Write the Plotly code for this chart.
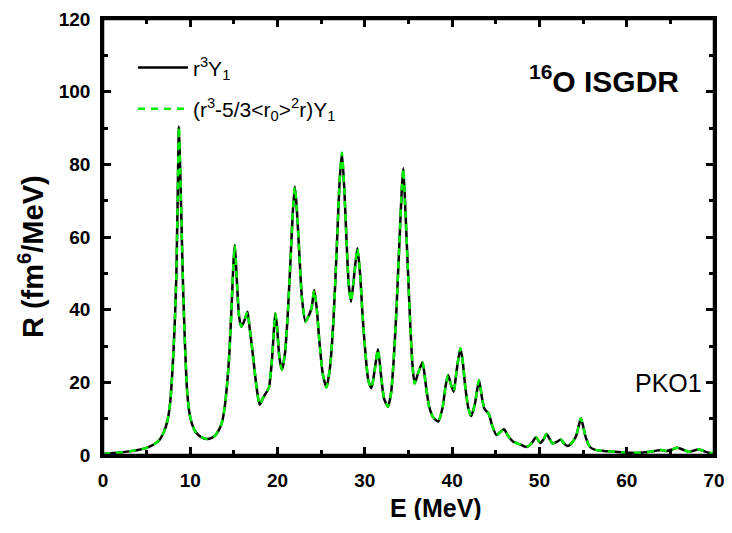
import plotly.graph_objects as go

energy = [0.0, 1.0, 2.0, 3.0, 4.0, 4.9, 5.8, 6.45, 7.0, 7.4, 7.7, 7.95, 8.2, 8.4, 8.55, 8.7, 8.85, 9.05, 9.2, 9.4,
          9.6, 9.85, 10.2, 10.6, 11.2, 11.9, 12.5, 12.9, 13.3, 13.6, 13.9, 14.2, 14.5, 14.75, 14.95, 15.1, 15.25,
          15.4, 15.6, 15.85, 16.2, 16.55, 16.8, 17.2, 17.6, 17.95, 18.3, 18.6, 19.0, 19.35, 19.6, 19.75, 19.95,
          20.2, 20.5, 20.85, 21.15, 21.45, 21.75, 21.98, 22.2, 22.5, 22.8, 23.2, 23.6, 23.9, 24.2, 24.5, 24.8,
          25.2, 25.6, 26.0, 26.4, 26.8, 27.1, 27.37, 27.65, 27.9, 28.15, 28.42, 28.8, 29.14, 29.45, 29.75, 30.1,
          30.4, 30.76, 31.1, 31.5, 31.85, 32.2, 32.64, 33.0, 33.3, 33.6, 33.95, 34.25, 34.41, 34.65, 34.9, 35.2,
          35.45, 35.7, 36.1, 36.6, 37.0, 37.35, 37.8, 38.4, 38.9, 39.25, 39.54, 39.85, 40.18, 40.5, 40.94, 41.2,
          41.5, 41.85, 42.18, 42.6, 43.08, 43.4, 43.69, 44.2, 44.6, 45.08, 45.5, 45.94, 46.4, 46.97, 47.7, 48.5,
          49.1, 49.6, 50.1, 50.5, 50.82, 51.15, 51.5, 52.0, 52.44, 52.8, 53.2, 53.7, 54.2, 54.5, 54.75, 55.0,
          55.3, 55.8, 56.4, 57.1, 57.8, 58.6, 59.5, 60.5, 61.5, 62.4, 63.2, 63.9, 64.6, 65.2, 65.8, 66.4, 67.1,
          67.7, 68.2, 68.8, 69.3, 70.0]
strength = [0.3, 0.5, 0.7, 1.0, 1.4, 1.9, 2.9, 4.1, 6.5, 9.6, 14.5, 23, 35, 49, 70, 90.4, 78, 58, 44, 30,
            19, 12.4, 8.5, 6.4, 5.0, 4.4, 4.8, 5.5, 7.0, 8.7, 12.5, 19, 29, 42, 53, 57.8, 52,
            45, 38, 35.3, 37, 39.4, 35, 27, 18.5, 13.8, 15.5, 16.8, 18.5, 26, 35, 39, 35,
            27, 23.4, 28, 38, 52, 67, 73.9, 68, 55, 43, 36.7, 38.5, 40.5, 45.4, 40, 31,
            22, 18.6, 24, 37, 58, 75, 83.2, 73, 59, 47, 42.2, 50, 56.9, 50, 38, 27,
            20.5, 18.4, 23, 29.1, 22, 15.5, 13.3, 17, 26, 39, 58, 74, 78.9, 67, 52.8, 36,
            25, 19.7, 22.5, 25.5, 19, 13.5, 10.5, 9.2, 13, 19, 22, 19.5, 17.4, 23, 29.4, 26,
            18.8, 13, 10.7, 14, 20.6, 16, 12.8, 11.3, 8, 5.5, 6.3, 7.1, 5.3, 3.7, 3.0, 2.2,
            3.2, 4.9, 3.3, 4.4, 5.8, 4.5, 3.2, 3.6, 4.3, 3.2, 2.5, 3.3, 5.2, 8.0, 10.1, 8,
            4.9, 2.2, 1.4, 1.2, 1.0, 0.9, 0.7, 0.6, 0.6, 0.8, 1.1, 1.4, 1.1, 1.5, 2.0, 1.5, 0.9,
            1.2, 1.6, 1.1, 0.7, 0.4]
# second operator gives practically identical response
strength_corr = list(strength)

x_ticks = [0, 10, 20, 30, 40, 50, 60, 70]
y_ticks = [0, 20, 40, 60, 80, 100, 120]

FONT = "Liberation Sans, Arial, sans-serif"

fig = go.Figure()
fig.add_trace(go.Scatter(
    x=energy, y=strength, mode="lines", name="r<sup>3</sup>Y<sub>1</sub>",
    line=dict(color="black", width=2.5, shape="spline", smoothing=0.6),
    legendgroup="a"))
fig.add_trace(go.Scatter(
    x=energy, y=strength_corr, mode="lines",
    name="(r<sup>3</sup>-5/3&lt;r<sub>0</sub>&gt;<sup>2</sup>r)Y<sub>1</sub>",
    line=dict(color="#00ee00", width=2.5, dash="7px,6px", shape="spline", smoothing=0.6),
    legendgroup="b"))

axis_common = dict(
    showline=True, linecolor="black", linewidth=2.5, mirror="allticks",
    ticks="inside", ticklen=8, tickwidth=2.5, tickcolor="black",
    showgrid=False, zeroline=False, automargin=False, ticklabeloverflow="allow",
    tickfont=dict(family=FONT, size=19, color="black", weight="bold"),
)

fig.update_xaxes(range=[0, 70], tickvals=x_ticks, ticktext=[str(v) for v in x_ticks],
                 minor=dict(dtick=5, ticks="inside", ticklen=5, tickwidth=2.5, tickcolor="black"),
                 ticklabelstandoff=6, **axis_common)
fig.update_yaxes(range=[0, 120], tickvals=y_ticks, ticktext=[str(v) for v in y_ticks],
                 minor=dict(dtick=10, ticks="inside", ticklen=5, tickwidth=2.5, tickcolor="black"),
                 ticklabelstandoff=6, **axis_common)

# the page body adds an 8px margin; the figure is sized so nothing scrolls and the
# plot box lands where the reference has it
fig.update_layout(
    width=716, height=512,
    margin=dict(l=95, r=10, t=11, b=65, autoexpand=False),
    paper_bgcolor="white", plot_bgcolor="white",
    showlegend=True,
    legend=dict(x=0.049, y=0.935, xanchor="left", yanchor="top",
                bgcolor="rgba(0,0,0,0)", borderwidth=0,
                font=dict(family=FONT, size=21, color="black"),
                tracegroupgap=11, itemwidth=50),
    shapes=[dict(type="rect", xref="paper", yref="paper", x0=0, x1=1, y0=0, y1=1,
                 line=dict(color="black", width=2.5), layer="above")],
    annotations=[
        dict(text="<b>E (MeV)</b>", x=0.545, y=-0.121, xref="paper", yref="paper",
             xanchor="center", yanchor="middle", showarrow=False,
             font=dict(family=FONT, size=25, color="black")),
        dict(text="<b>R (fm<sup>6</sup>/MeV)</b>", x=-0.118, y=0.456, xref="paper", yref="paper",
             xanchor="center", yanchor="middle", showarrow=False, textangle=-90,
             font=dict(family=FONT, size=29, color="black")),
        dict(text="<b><sup>16</sup>O ISGDR</b>", x=0.82, y=0.862, xref="paper", yref="paper",
             xanchor="center", yanchor="middle", showarrow=False,
             font=dict(family=FONT, size=30, color="black")),
        dict(text="PKO1", x=0.925, y=0.165, xref="paper", yref="paper",
             xanchor="center", yanchor="middle", showarrow=False,
             font=dict(family=FONT, size=25, color="black")),
    ],
)

fig.write_html("out.html")
